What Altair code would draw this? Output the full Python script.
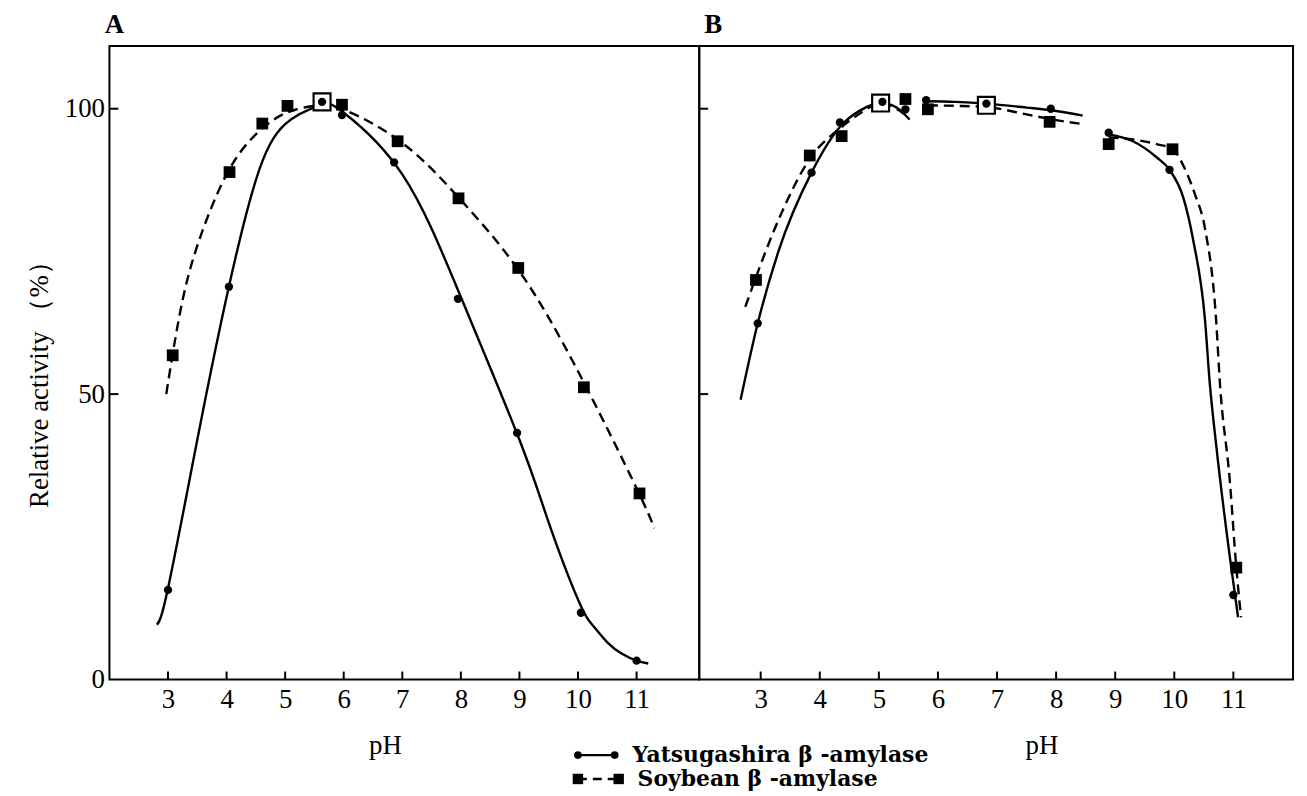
import altair as alt
import pandas as pd

FONT = "Liberation Serif"
LEG_FONT = "DejaVu Serif"

# ---------------- Panel A data ----------------
A_yat_ph = [3.0, 4.04, 5.63, 5.97, 6.86, 7.95, 8.96, 10.05, 11.0]
A_yat_act = [15.7, 68.8, 101.2, 98.9, 90.6, 66.7, 43.2, 11.7, 3.3]
A_soy_ph = [3.08, 4.05, 4.61, 5.04, 5.97, 6.92, 7.96, 8.98, 10.1, 11.05]
A_soy_act = [56.8, 88.9, 97.4, 100.5, 100.7, 94.3, 84.3, 72.1, 51.2, 32.6]
A_open_ph = [5.63]
A_open_act = [101.2]

A_yat_curve_ph = [2.81, 3.0, 3.5, 4.0, 4.5, 5.0, 5.6, 6.0, 7.0, 8.0, 9.0, 9.5, 10.0, 10.25, 10.5, 10.75, 11.0, 11.2]
A_yat_curve_act = [9.6, 16, 42, 67, 87.5, 97.3, 100.6, 99.3, 88.5, 67, 42, 27.5, 14, 9.5, 6.5, 4.5, 3.3, 2.8]
A_soy_curve_ph = [2.97, 3.2, 3.5, 4.0, 4.5, 5.0, 5.5, 6.0, 7.0, 8.0, 9.0, 10.0, 11.0, 11.3]
A_soy_curve_act = [50, 64, 76, 88.5, 95.5, 99.2, 100.5, 99.8, 94, 84, 71.5, 54, 33.5, 26.5]

# ---------------- Panel B data ----------------
B_yat_ph = [2.95, 3.86, 4.34, 5.06, 5.45, 5.8, 6.82, 7.91, 8.89, 9.92, 11.0]
B_yat_act = [62.4, 88.8, 97.6, 101.2, 99.9, 101.5, 100.9, 100.0, 95.8, 89.3, 14.8]
B_soy_ph = [2.92, 3.83, 4.37, 5.45, 5.83, 7.89, 8.89, 9.97, 11.05]
B_soy_act = [70.0, 91.8, 95.2, 101.7, 99.9, 97.7, 93.8, 92.9, 19.6]
B_open_ph = [5.03, 6.82]
B_open_act = [101.0, 100.6]

B_yat_seg1_ph = [2.66, 2.95, 3.3, 3.86, 4.34, 4.7, 5.05, 5.3, 5.52]
B_yat_seg1_act = [49, 62.4, 75, 88.8, 96.8, 99.8, 101.0, 100.2, 98.1]
B_yat_seg2_ph = [5.8, 6.3, 6.82, 7.5, 8.0, 8.45]
B_yat_seg2_act = [101.3, 101.2, 100.9, 100.2, 99.6, 98.8]
B_yat_seg3_ph = [8.89, 9.3, 9.7, 9.92, 10.15, 10.32, 10.52, 10.6, 10.71, 10.94, 11.08]
B_yat_seg3_act = [95.5, 94.3, 91.5, 89.3, 84.5, 77, 63, 52, 41, 21.5, 10.9]

B_soy_seg1_ph = [2.74, 2.92, 3.3, 3.83, 4.37, 4.7, 5.03, 5.3, 5.5]
B_soy_seg1_act = [65.3, 70.5, 80.5, 91.2, 96.8, 99.3, 101.0, 100.0, 98.5]
B_soy_seg2_ph = [5.83, 6.3, 6.82, 7.5, 8.0, 8.45]
B_soy_seg2_act = [100.6, 100.5, 100.3, 99.0, 98.0, 97.3]
B_soy_seg3_ph = [8.89, 9.3, 9.7, 9.97, 10.2, 10.35, 10.52, 10.71, 10.77, 10.94, 11.05, 11.13]
B_soy_seg3_act = [95.0, 94.6, 93.8, 92.9, 89, 85, 79, 62.7, 52.3, 34.8, 19.6, 10.9]

x_ticks = [3, 4, 5, 6, 7, 8, 9, 10, 11]
y_ticks = [0, 50, 100]
y_inner_ticks = [50, 100]

legend_labels = ["Yatsugashira \u03b2 -amylase", "Soybean \u03b2 -amylase"]

H = 637
Y_DOMAIN = [0, 111]


def pts(ph, act):
    return pd.DataFrame({"pH": ph, "act": act})


def curves(*segs):
    rows = []
    for i, (ph, act) in enumerate(segs):
        for p, a in zip(ph, act):
            rows.append({"pH": p, "act": a, "seg": i})
    return pd.DataFrame(rows)


def panel(letter, width, xdomain, yat, soy, opn, yat_c, soy_c, show_y, ph_title_x, interp, extra=None):
    xs = alt.Scale(domain=xdomain, nice=False, zero=False)
    ys = alt.Scale(domain=Y_DOMAIN, nice=False)
    xaxis = alt.Axis(values=x_ticks, format="d", ticks=False, domain=False, grid=False,
                     labelFont=FONT, labelFontSize=27, labelColor="black",
                     labelPadding=7, labelBaseline="top",
                     title="pH", titleFont=FONT, titleFontSize=27, titleFontWeight="normal",
                     titleColor="black", titleX=ph_title_x, titleY=66, titleBaseline="middle")
    if show_y:
        yaxis = alt.Axis(values=y_ticks, format="d", ticks=False, domain=False, grid=False,
                         labelFont=FONT, labelFontSize=27, labelColor="black", labelPadding=5,
                         title="Relative activity \uff08%\uff09", titleFont=FONT, titleFontSize=27,
                         titleFontWeight="normal", titleColor="black",
                         titleX=-70, titleY=H / 2 + 15, titleAlign="center", titleBaseline="middle")
    else:
        yaxis = None
    X = alt.X("pH:Q", scale=xs, axis=xaxis)
    Y = alt.Y("act:Q", scale=ys, axis=yaxis)

    l_yat = alt.Chart(yat_c).mark_line(color="black", strokeWidth=2.4, interpolate=interp).encode(
        x=X, y=Y, detail="seg:N")
    l_soy = alt.Chart(soy_c).mark_line(color="black", strokeWidth=2.4, strokeDash=[10, 6],
                                       interpolate=interp).encode(x=X, y=Y, detail="seg:N")
    p_soy = alt.Chart(soy).mark_point(shape="square", filled=True, color="black", size=140, opacity=1).encode(x=X, y=Y)
    p_open = alt.Chart(opn).mark_point(shape="square", filled=True, fill="white", stroke="black",
                                       strokeWidth=2.2, size=290, opacity=1).encode(x=X, y=Y)
    p_yat = alt.Chart(yat).mark_point(shape="circle", filled=True, color="black", size=70, opacity=1).encode(x=X, y=Y)

    xt = alt.Chart(pd.DataFrame({"pH": x_ticks})).mark_rule(color="black", strokeWidth=2).encode(
        x=alt.X("pH:Q", scale=xs), y=alt.value(H), y2=alt.value(H - 8))
    yt = alt.Chart(pd.DataFrame({"act": y_inner_ticks})).mark_rule(color="black", strokeWidth=2).encode(
        y=alt.Y("act:Q", scale=ys), x=alt.value(0), x2=alt.value(9))
    lab = alt.Chart(pd.DataFrame({"t": [letter]})).mark_text(
        font=FONT, fontSize=27, fontWeight="bold", color="black", align="center", baseline="middle").encode(
        text="t:N", x=alt.value(5 if letter == "A" else 14), y=alt.value(-21))

    layers = [l_yat, l_soy, p_soy, p_open, p_yat, xt, yt, lab]
    if extra:
        layers += extra
    return alt.layer(*layers).properties(width=width, height=H)


# legend drawn below, anchored to panel B
LX = -122
leg_line1 = alt.Chart(pd.DataFrame({"k": [0]})).mark_rule(color="black", strokeWidth=2.4).encode(
    x=alt.value(LX), x2=alt.value(LX + 37), y=alt.value(713))
leg_pt1 = alt.Chart(pd.DataFrame({"xx": [LX, LX + 37]})).mark_point(
    shape="circle", filled=True, color="black", size=60, opacity=1).encode(
    x=alt.X("xx:Q", scale=None), y=alt.value(713))
leg_line2 = alt.Chart(pd.DataFrame({"k": [0]})).mark_rule(color="black", strokeWidth=2.4, strokeDash=[9, 6]).encode(
    x=alt.value(LX), x2=alt.value(LX + 41), y=alt.value(737))
leg_pt2 = alt.Chart(pd.DataFrame({"xx": [LX, LX + 41]})).mark_point(
    shape="square", filled=True, color="black", size=110, opacity=1).encode(
    x=alt.X("xx:Q", scale=None), y=alt.value(737))
leg_txt = alt.Chart(pd.DataFrame({"t": legend_labels, "yy": [713, 737], "xx": [LX + 55, LX + 60]})).mark_text(
    font=LEG_FONT, fontSize=22, fontWeight="bold", color="black", align="left", baseline="middle").encode(
    text="t:N", x=alt.X("xx:Q", scale=None), y=alt.Y("yy:Q", scale=None))

chartA = panel("A", 593, [2.0, 12.07],
               pts(A_yat_ph, A_yat_act), pts(A_soy_ph, A_soy_act), pts(A_open_ph, A_open_act),
               curves((A_yat_curve_ph, A_yat_curve_act)),
               curves((A_soy_curve_ph, A_soy_curve_act)),
               True, 277, "natural")
chartB = panel("B", 597, [1.96, 12.01],
               pts(B_yat_ph, B_yat_act), pts(B_soy_ph, B_soy_act), pts(B_open_ph, B_open_act),
               curves((B_yat_seg1_ph, B_yat_seg1_act), (B_yat_seg2_ph, B_yat_seg2_act), (B_yat_seg3_ph, B_yat_seg3_act)),
               curves((B_soy_seg1_ph, B_soy_seg1_act), (B_soy_seg2_ph, B_soy_seg2_act), (B_soy_seg3_ph, B_soy_seg3_act)),
               False, 344, "monotone",
               extra=[leg_line1, leg_line2, leg_pt1, leg_pt2, leg_txt])

chart = alt.hconcat(chartA, chartB, spacing=0, bounds="flush").properties(
    padding={"left": 17, "top": 0, "right": 5, "bottom": 5},
    background="white",
).configure_view(stroke="black", strokeWidth=2)

chart.save("out.html", embed_options={"renderer": "svg", "actions": False})
